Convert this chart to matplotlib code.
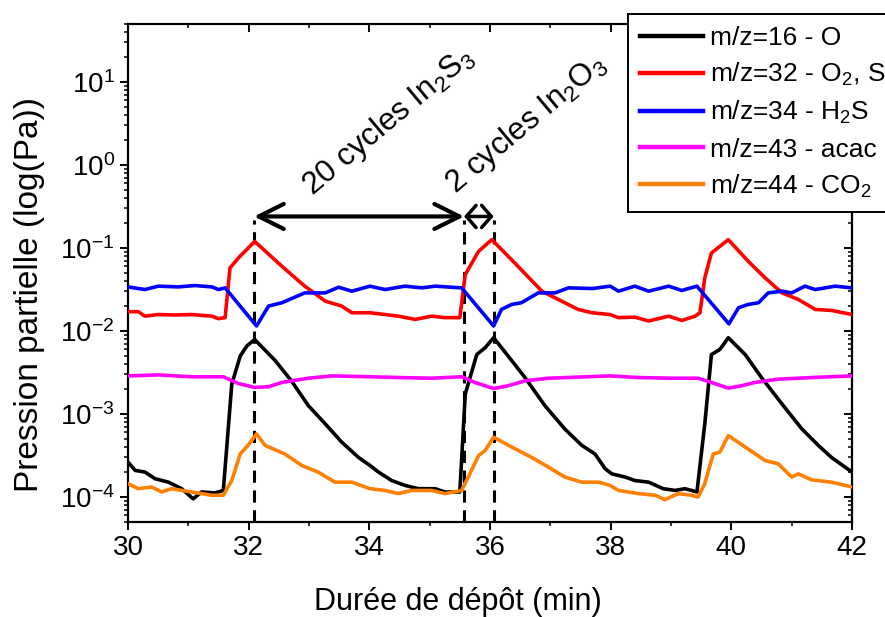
import matplotlib
matplotlib.use("Agg")
import matplotlib.pyplot as plt
from matplotlib.ticker import LogLocator, MultipleLocator, NullFormatter
from matplotlib.lines import Line2D

plt.rcParams['font.family'] = ['Liberation Sans', 'DejaVu Sans']
plt.rcParams['mathtext.fontset'] = 'custom'
plt.rcParams['mathtext.rm'] = 'Liberation Sans'
plt.rcParams['mathtext.it'] = 'Liberation Sans'
plt.rcParams['axes.unicode_minus'] = False

# m/z=16 - O (black)
t_m16 = [30.0, 30.12, 30.28, 30.45, 30.67, 30.89, 31.08, 31.22, 31.44, 31.58, 31.72, 31.86, 31.97, 32.10,
         32.44, 32.71, 32.99, 33.27, 33.54, 33.82, 34.01,
         34.15, 34.37, 34.59, 34.81, 35.09, 35.25, 35.50, 35.59, 35.78, 35.92, 36.06, 36.30, 36.58, 36.91,
         37.24, 37.52, 37.74,
         37.91, 38.02, 38.24, 38.40, 38.63, 38.87, 39.07, 39.23, 39.34, 39.43, 39.56, 39.67, 39.81, 39.95,
         40.23, 40.50, 40.84, 41.17, 41.44, 41.66, 42.0]
p_m16 = [2.63e-4, 2.09e-4, 2.0e-4, 1.66e-4, 1.51e-4, 1.26e-4, 9.5e-5, 1.15e-4, 1.12e-4, 1.2e-4, 2.29e-3,
         5.0e-3, 6.6e-3, 7.9e-3, 4.4e-3, 2.5e-3, 1.26e-3, 7.6e-4, 4.6e-4, 3.0e-4, 2.4e-4,
         2.0e-4, 1.58e-4, 1.38e-4, 1.26e-4, 1.26e-4, 1.15e-4, 1.15e-4, 1.74e-3, 5.2e-3, 6.3e-3, 8.3e-3,
         5.0e-3, 2.75e-3, 1.26e-3, 6.6e-4, 4.2e-4, 3.3e-4,
         2.19e-4, 1.9e-4, 1.74e-4, 1.58e-4, 1.51e-4, 1.26e-4, 1.2e-4, 1.26e-4, 1.2e-4, 1.15e-4, 7.6e-4,
         5.2e-3, 6.0e-3, 8.3e-3, 5.2e-3, 2.75e-3, 1.32e-3, 6.6e-4, 4.2e-4, 3.0e-4, 2.0e-4]

# m/z=32 - O2, S (red)
t_m32 = [30.0, 30.17, 30.28, 30.5, 30.78, 31.05, 31.39, 31.50, 31.61, 31.69, 31.83, 32.10, 32.55, 32.93,
         33.27, 33.54, 33.71, 34.01,
         34.26, 34.48, 34.76, 35.03, 35.25, 35.50, 35.59, 35.81, 36.03, 36.41, 36.86, 37.24, 37.46, 37.69, 37.99,
         38.13, 38.40, 38.63, 38.96, 39.18, 39.40, 39.48, 39.56, 39.67, 39.95, 40.28, 40.56, 40.84, 41.11,
         41.39, 41.66, 42.0]
p_m32 = [0.0171, 0.0171, 0.0151, 0.0158, 0.0156, 0.0158, 0.0151, 0.0141, 0.0145, 0.0575, 0.0759, 0.120,
         0.0603, 0.0347, 0.0229, 0.0200, 0.0166, 0.0166,
         0.0158, 0.0151, 0.0138, 0.0151, 0.0145, 0.0145, 0.0479, 0.0912, 0.126, 0.0661, 0.0302, 0.0219,
         0.0182, 0.0166, 0.0158,
         0.0145, 0.0147, 0.0132, 0.0151, 0.0134, 0.0151, 0.0166, 0.0437, 0.0871, 0.126, 0.0692, 0.0437,
         0.0288, 0.0240, 0.0182, 0.0177, 0.0158]

# m/z=34 - H2S (blue)
t_m34 = [30.0, 30.28, 30.5, 30.83, 31.11, 31.39, 31.5, 31.61, 32.13, 32.33, 32.55, 32.93, 33.27, 33.49,
         33.71, 34.01, 34.26, 34.59, 34.87, 35.09, 35.36, 35.53, 36.06, 36.19, 36.36, 36.52, 36.8, 37.08,
         37.3, 37.7, 37.99, 38.13, 38.4, 38.63, 38.96, 39.18, 39.43, 39.96, 40.12, 40.28, 40.45, 40.61,
         40.84, 41.0, 41.22, 41.39, 41.72, 42.0]
p_m34 = [0.034, 0.0316, 0.0347, 0.034, 0.0353, 0.034, 0.0316, 0.0331, 0.0115, 0.0200, 0.0219, 0.0288,
         0.0288, 0.0337, 0.0302, 0.0347, 0.0316, 0.0347, 0.0331, 0.0347, 0.0337, 0.0331, 0.0115, 0.0182,
         0.0209, 0.0219, 0.0288, 0.0288, 0.0331, 0.0325, 0.0347, 0.0302, 0.0347, 0.0302, 0.0347, 0.0308,
         0.0347, 0.0122, 0.0191, 0.0209, 0.0219, 0.0288, 0.0302, 0.0288, 0.0347, 0.0316, 0.0347, 0.0331]

# m/z=43 - acac (magenta)
t_m43 = [30.0, 30.5, 31.05, 31.58, 31.83, 32.10, 32.33, 32.55, 32.99, 33.38, 34.01, 34.48, 35.03, 35.53,
         35.75, 36.06, 36.30, 36.58, 36.97, 37.99, 38.46, 39.01, 39.45, 39.67, 39.95, 40.17, 40.39, 40.78,
         41.33, 42.0]
p_m43 = [2.88e-3, 2.96e-3, 2.81e-3, 2.81e-3, 2.33e-3, 2.09e-3, 2.13e-3, 2.40e-3, 2.70e-3, 2.88e-3,
         2.81e-3, 2.75e-3, 2.70e-3, 2.81e-3, 2.40e-3, 2.03e-3, 2.19e-3, 2.51e-3, 2.70e-3, 2.88e-3,
         2.75e-3, 2.70e-3, 2.70e-3, 2.40e-3, 2.05e-3, 2.19e-3, 2.40e-3, 2.63e-3, 2.75e-3, 2.88e-3]

# m/z=44 - CO2 (orange)
t_m44 = [30.0, 30.17, 30.39, 30.56, 30.72, 31.05, 31.39, 31.58, 31.72, 31.86, 31.99, 32.13, 32.27, 32.60,
         32.88, 33.15, 33.43, 33.71, 34.01,
         34.26, 34.48, 34.70, 35.03, 35.25, 35.53, 35.64, 35.81, 35.92, 36.06, 36.36, 36.69, 36.97, 37.24,
         37.52, 37.80, 37.99,
         38.13, 38.46, 38.74, 38.90, 39.12, 39.34, 39.45, 39.56, 39.70, 39.81, 39.95, 40.23, 40.56, 40.78,
         41.00, 41.11, 41.33, 41.66, 42.0]
p_m44 = [1.45e-4, 1.26e-4, 1.32e-4, 1.15e-4, 1.26e-4, 1.15e-4, 1.05e-4, 1.05e-4, 1.58e-4, 3.3e-4, 4.2e-4,
         5.75e-4, 4.2e-4, 3.3e-4, 2.4e-4, 2.0e-4, 1.51e-4, 1.51e-4, 1.26e-4,
         1.2e-4, 1.10e-4, 1.2e-4, 1.2e-4, 1.10e-4, 1.2e-4, 1.74e-4, 3.16e-4, 3.63e-4, 5.25e-4, 4.0e-4,
         3.0e-4, 2.29e-4, 1.74e-4, 1.51e-4, 1.51e-4, 1.38e-4,
         1.2e-4, 1.10e-4, 1.05e-4, 9.3e-5, 1.10e-4, 1.05e-4, 1.0e-4, 1.45e-4, 3.3e-4, 3.47e-4, 5.5e-4,
         4.0e-4, 2.75e-4, 2.51e-4, 1.74e-4, 1.9e-4, 1.61e-4, 1.51e-4, 1.32e-4]

series = [
    (t_m16, p_m16, 'black', 'm/z=16 - O'),
    (t_m32, p_m32, '#ff0000', 'm/z=32 - O$_2$, S'),
    (t_m34, p_m34, '#0000ff', 'm/z=34 - H$_2$S'),
    (t_m43, p_m43, '#ff00ff', 'm/z=43 - acac'),
    (t_m44, p_m44, '#ff8000', 'm/z=44 - CO$_2$'),
]

# cycle boundaries (dashed lines) and arrow level
t_events = [32.09, 35.57, 36.06]
arrow_level = 0.24
dash_top = 0.22

fig = plt.figure(figsize=(8.85, 6.17), dpi=100)
ax = fig.add_axes([128 / 885, 1 - 522 / 617, 724 / 885, 498 / 617])

for t_ev in t_events:
    ax.plot([t_ev, t_ev], [5e-5, dash_top], color='black', lw=2.2, dashes=(4, 2.5), zorder=1)

handles = []
for t, p, c, lab in series:
    ax.plot(t, p, color=c, lw=2.6, zorder=3)
    handles.append(Line2D([], [], color=c, lw=3.2, label=lab))

ax.annotate('', xy=(t_events[0], arrow_level), xytext=(t_events[1], arrow_level),
            arrowprops=dict(arrowstyle='<->, head_length=0.9, head_width=0.45', lw=3,
                            color='black', shrinkA=0, shrinkB=0, mutation_scale=20))
ax.annotate('', xy=(t_events[1], arrow_level), xytext=(t_events[2], arrow_level),
            arrowprops=dict(arrowstyle='<->, head_length=0.35, head_width=0.4', lw=2.5,
                            color='black', shrinkA=0, shrinkB=0, mutation_scale=20))

ax.text(33.05, 0.42, '20 cycles In$_2$S$_3$', rotation=40, rotation_mode='anchor',
        ha='left', va='baseline', fontsize=22.5)
ax.text(35.42, 0.45, '2 cycles In$_2$O$_3$', rotation=40, rotation_mode='anchor',
        ha='left', va='baseline', fontsize=22.5)

ax.set_yscale('log')
ax.set_xlim(30, 42)
ax.set_ylim(5e-5, 50)
ax.xaxis.set_major_locator(MultipleLocator(2))
ax.xaxis.set_minor_locator(MultipleLocator(1))
ax.yaxis.set_major_locator(LogLocator(base=10, numticks=20))
ax.yaxis.set_minor_locator(LogLocator(base=10, subs=range(2, 10), numticks=20))
ax.yaxis.set_minor_formatter(NullFormatter())

for side in ax.spines.values():
    side.set_linewidth(1.6)

ax.tick_params(axis='both', which='major', labelsize=20, length=6, width=1.4,
               top=True, right=True)
ax.tick_params(axis='both', which='minor', length=3, width=1.1, top=True, right=True)
ax.tick_params(axis='x', which='both', direction='out')
ax.tick_params(axis='y', which='both', direction='out')
# top / right ticks point inward
for tk in ax.xaxis.get_major_ticks() + ax.xaxis.get_minor_ticks():
    tk.tick2line.set_marker(3)
for tk in ax.yaxis.get_major_ticks() + ax.yaxis.get_minor_ticks():
    tk.tick2line.set_marker(0)

ax.set_xlabel('Durée de dépôt (min)', fontsize=22)
ax.set_ylabel('Pression partielle (log(Pa))', fontsize=24)
ax.xaxis.set_label_coords(0.456, -0.13)
ax.yaxis.set_label_coords(-0.115, 0.456)

leg = fig.legend(handles=handles, loc='upper left', bbox_to_anchor=(628 / 885, 1 - 14 / 617),
                 bbox_transform=fig.transFigure, fontsize=19, frameon=True, fancybox=False,
                 framealpha=1, edgecolor='black', borderaxespad=0, borderpad=0.45,
                 handlelength=2.4, handletextpad=0.27, labelspacing=0.42)
leg.get_frame().set_linewidth(1.4)

fig.savefig('out.png', dpi=100)
